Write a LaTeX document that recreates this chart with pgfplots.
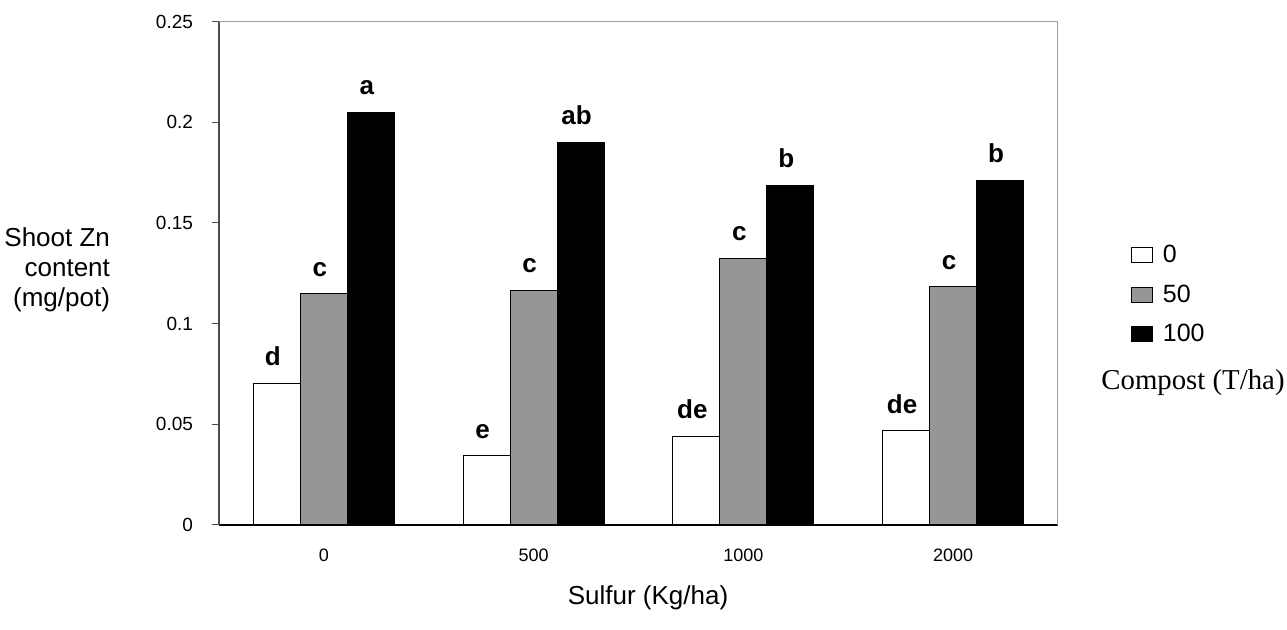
\documentclass[border=0pt]{standalone}
\usepackage{pgfplots}
\pgfplotsset{compat=1.18}
\usepackage{fontspec}
\setmainfont{Liberation Sans}
\newfontfamily\timesfont{Liberation Serif}
\definecolor{bargray}{HTML}{969696}
\definecolor{framegray}{HTML}{A0A0A0}
\begin{document}
\begin{tikzpicture}
\useasboundingbox (0,0) rectangle (643.5pt,315pt);
\begin{axis}[
  at={(109.5pt,52.5pt)}, anchor=south west,
  scale only axis, width=419.5pt, height=251.7pt,
  xmin=-0.5, xmax=3.5, ymin=0, ymax=0.25,
  axis x line*=bottom, axis y line*=left,
  x axis line style={black, line width=0.6pt},
  y axis line style={black!70, line width=0.6pt},
  ybar, bar width=0.224,
  xtick={0,1,2,3}, xticklabels={0,500,1000,2000},
  major x tick style={draw=none},
  extra x ticks={-0.5,0.5,1.5,2.5,3.5}, extra x tick labels={},
  extra x tick style={major tick length=3pt, tick align=outside, tick style={black, line width=0.5pt}},
  ytick={0,0.05,0.1,0.15,0.2,0.25},
  yticklabels={0,0.05,0.1,0.15,0.2,0.25},
  ytick style={black!70, line width=0.5pt},
  tick align=outside, major tick length=3.5pt,
  xticklabel style={font=\fontsize{9}{10}\selectfont, yshift=-5pt},
  yticklabel style={font=\fontsize{9.5}{11}\selectfont, xshift=-6pt},
  point meta=explicit symbolic,
  nodes near coords,
  nodes near coords style={font=\bfseries\fontsize{13}{15}\selectfont, anchor=south, inner sep=0pt, yshift=8.5pt, xshift=-2pt, text=black},
  legend image code/.code={\draw[#1, line width=0.5pt] (0pt,-4.5pt) rectangle (10.5pt,3pt);},
  legend style={at={(1.087,0.557)}, anchor=north west, draw=none, fill=none, inner sep=0pt,
    font=\fontsize{12.5}{14}\selectfont, row sep=10.5pt, column sep=0pt,
    nodes={text height=9pt, text depth=0pt, inner ysep=0pt, inner xsep=4.75pt}},
  legend cell align=left,
  clip=false,
]
\addplot[draw=black, fill=white, line width=0.5pt, bar shift=-0.224] coordinates {(0,0.0705) [d] (1,0.0343) [e] (2,0.0439) [de] (3,0.0468) [de]};
\addlegendentry{0}
\addplot[draw=black, fill=bargray, line width=0.5pt, bar shift=0] coordinates {(0,0.1148) [c] (1,0.1164) [c] (2,0.1323) [c] (3,0.1183) [c]};
\addlegendentry{50}
\addplot[draw=black, fill=black, line width=0.5pt, bar shift=0.224] coordinates {(0,0.2048) [a] (1,0.1899) [ab] (2,0.1687) [b] (3,0.1713) [b]};
\addlegendentry{100}
\draw[framegray, line width=0.5pt] (rel axis cs:0,1) -- (rel axis cs:1,1) -- (rel axis cs:1,0);
\end{axis}
\node[align=right, anchor=east, font=\fontsize{13}{15}\selectfont] at (58.5pt,180pt) {Shoot Zn\\content\\(mg/pot)};
\node[font=\fontsize{13}{15}\selectfont] at (324pt,16pt) {Sulfur (Kg/ha)};
\node[font=\timesfont\fontsize{14.4}{16}\selectfont] at (596.5pt,123.5pt) {Compost (T/ha)};
\end{tikzpicture}
\end{document}
